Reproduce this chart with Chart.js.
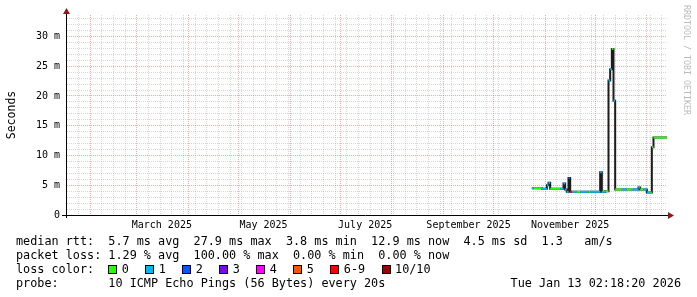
<!DOCTYPE html>
<html>
<head>
  <meta charset="utf-8">
  <title>Smokeping - last 360 days</title>
  <style>
    body { margin: 0; background: #fff; }
    #wrap { position: relative; width: 697px; height: 297px; font-family: "DejaVu Sans Mono", monospace; color: #000; overflow: hidden; }
    #chart { position: absolute; left: 0; top: 0; }
    .line { position: absolute; left: 16px; font-size: 11.8px; line-height: 14px; white-space: pre; }
    .sw { display: inline-block; width: 7px; height: 7px; border: 1px solid #000; margin-right: 4.5px; vertical-align: -1px; }
    .lt { margin-right: 16.4px; }
    #stamp { position: absolute; right: 16px; top: 276px; font-size: 11.8px; line-height: 14px; white-space: pre; }
    #mark { position: absolute; left: 682px; top: 5px; writing-mode: vertical-rl; font-size: 8.3px; color: #bbb; white-space: pre; font-family: "DejaVu Sans Mono", monospace; }
  </style>
</head>
<body>
<div id="wrap">
  <canvas id="chart" width="697" height="297"></canvas>
  <div id="mark">RRDTOOL / TOBI OETIKER</div>
  <div class="line" style="top:234px">median rtt:  5.7 ms avg  27.9 ms max  3.8 ms min  12.9 ms now  4.5 ms sd  1.3   am/s</div>
  <div class="line" style="top:248px">packet loss: 1.29 % avg  100.00 % max  0.00 % min  0.00 % now</div>
  <div class="line" id="losses" style="top:262px">loss color:  </div>
  <div class="line" style="top:276px">probe:       10 ICMP Echo Pings (56 Bytes) every 20s</div>
  <div id="stamp">Tue Jan 13 02:18:20 2026</div>
</div>

<script src="https://cdn.jsdelivr.net/npm/chart.js@4.4.1/dist/chart.umd.min.js"></script>
<script>
  const graphStart = '2025-01-18T02:18:20';
  const graphEnd = '2026-01-13T02:18:20';

  // median rtt (ms), each value holds from its date until the next one
  const runStart = ['2025-10-24','2025-10-25','2025-10-30','2025-11-02','2025-11-03','2025-11-04','2025-11-10',
    '2025-11-12','2025-11-13','2025-11-14','2025-11-15','2025-11-16','2025-11-17','2025-11-20','2025-11-22',
    '2025-11-27','2025-11-28','2025-12-04','2025-12-05','2025-12-07','2025-12-09','2025-12-10','2025-12-11',
    '2025-12-12','2025-12-13','2025-12-17','2025-12-20','2025-12-23','2025-12-27','2025-12-28','2025-12-30',
    '2026-01-01','2026-01-03','2026-01-04','2026-01-05'];
  const medianMs = [4.5,4.5,4.4,5.0,5.4,4.4,4.4,5.3,4.3,3.9,6.2,3.9,3.9,3.9,3.9,3.9,3.9,7.2,3.9,4.0,
    22.6,24.5,27.9,19.2,4.3,4.3,4.3,4.3,4.6,4.3,4.3,3.8,3.8,11.4,13.0];
  const lossIdx = [1,0,1,1,1,0,1,1,1,1,2,6,1,0,1,0,1,1,1,0,1,1,0,1,0,1,0,1,1,0,1,1,0,0,0];

  const lossLabels = ['0','1','2','3','4','5','6-9','10/10'];
  const lossColors = ['#26ff00','#00b8ff','#0059ff','#7e00ff','#ff00ff','#ff5500','#ff0000','#a10000'];

  const monthLabels = ['March 2025','May 2025','July 2025','September 2025','November 2025'];
  const labelDates = ['2025-03-16','2025-05-16','2025-07-16','2025-09-16','2025-11-16'];
  const yLabelStep = 5;

  const DAY = 86400000, T0 = Date.parse('2025-01-01T00:00:00Z');
  const toDay = s => (Date.parse(s.length === 10 ? s + 'T00:00:00Z' : s + 'Z') - T0) / DAY;

  const xMin = toDay(graphStart), xMax = toDay(graphEnd);

  // grid: month starts (major), saturdays (minor), label spots (no line)
  const monthDays = [];
  for (let m = 1; m <= 12; m++) monthDays.push((Date.UTC(2025, m, 1) - T0) / DAY);
  const weekDays = [];
  for (let d = toDay('2025-01-25'); d < xMax; d += 7) if (!monthDays.includes(d)) weekDays.push(d);
  const labelMap = new Map(labelDates.map((s, i) => [toDay(s), monthLabels[i]]));
  const xTicks = [...weekDays, ...monthDays, ...labelMap.keys()].sort((a, b) => a - b);
  const yTicks = [];
  for (let v = 0; v <= 33; v++) yTicks.push(v);

  const minorGrid = 'rgba(150,150,150,0.38)';
  const majorGrid = 'rgba(230,90,90,0.5)';

  // legend swatches
  const losses = document.getElementById('losses');
  lossLabels.forEach((l, i) => {
    const sw = document.createElement('span');
    sw.className = 'sw';
    sw.style.background = lossColors[i];
    const t = document.createElement('span');
    t.className = 'lt';
    t.textContent = l;
    losses.appendChild(sw);
    losses.appendChild(t);
  });

  const startDays = runStart.map(toDay);
  const endDays = startDays.slice(1).concat(xMax);
  const stepData = startDays.map((d, i) => ({x: d, y: medianMs[i]}))
    .concat({x: xMax, y: medianMs[medianMs.length - 1]});
  const segData = [];
  startDays.forEach((d, i) => {
    segData.push({x: d, y: medianMs[i]}, {x: endDays[i], y: medianMs[i]}, {x: endDays[i], y: null});
  });

  const axisArrows = {
    id: 'axisArrows',
    afterDatasetsDraw(chart) {
      const {ctx, chartArea: a} = chart;
      ctx.save();
      ctx.strokeStyle = '#000';
      ctx.lineWidth = 1;
      ctx.beginPath();
      ctx.moveTo(a.left - 5, a.bottom + 0.5); ctx.lineTo(a.right + 2, a.bottom + 0.5);
      ctx.moveTo(a.left - 0.5, a.bottom + 3); ctx.lineTo(a.left - 0.5, a.top - 2);
      ctx.stroke();
      ctx.fillStyle = '#8b1a1a';
      ctx.beginPath();
      ctx.moveTo(a.right + 7, a.bottom + 0.5); ctx.lineTo(a.right + 1, a.bottom - 3); ctx.lineTo(a.right + 1, a.bottom + 4);
      ctx.fill();
      ctx.beginPath();
      ctx.moveTo(a.left - 0.5, a.top - 7); ctx.lineTo(a.left - 4, a.top - 1); ctx.lineTo(a.left + 3, a.top - 1);
      ctx.fill();
      ctx.restore();
    }
  };

  Chart.defaults.font.family = '"DejaVu Sans Mono", monospace';
  Chart.defaults.color = '#000';

  new Chart(document.getElementById('chart'), {
    type: 'line',
    data: {
      datasets: [
        {
          data: segData, borderWidth: 2, pointRadius: 0, spanGaps: false, borderCapStyle: 'butt',
          borderColor: lossColors[0], order: 0,
          segment: { borderColor: c => lossColors[lossIdx[Math.floor(c.p0DataIndex / 3)]] }
        },
        { data: stepData, stepped: true, borderColor: '#1c1c1c', borderWidth: 2, pointRadius: 0, order: 1 }
      ]
    },
    options: {
      responsive: false,
      animation: false,
      devicePixelRatio: 1,
      layout: { padding: { left: 0, top: 15, right: 30, bottom: 0 } },
      plugins: { legend: { display: false }, tooltip: { enabled: false } },
      scales: {
        x: {
          type: 'linear', min: xMin, max: xMax,
          afterBuildTicks: s => { s.ticks = xTicks.map(v => ({value: v})); },
          afterFit: s => { s.height = 82; },
          grid: {
            drawTicks: false,
            color: c => {
              const v = c.tick ? c.tick.value : null;
              if (labelMap.has(v)) return 'rgba(0,0,0,0)';
              return monthDays.includes(v) ? majorGrid : minorGrid;
            }
          },
          border: { display: false, dash: [1, 1] },
          ticks: {
            autoSkip: false, maxRotation: 0, minRotation: 0, padding: 4,
            font: { size: 10 },
            callback: v => labelMap.get(v) || ''
          }
        },
        y: {
          min: 0, max: 33.6,
          afterBuildTicks: s => { s.ticks = yTicks.map(v => ({value: v})); },
          afterFit: s => { s.width = 67; },
          grid: {
            drawTicks: false,
            color: c => {
              const v = c.tick ? c.tick.value : null;
              if (v === 0) return 'rgba(0,0,0,0)';
              return v % yLabelStep === 0 ? majorGrid : minorGrid;
            }
          },
          border: { display: false, dash: [1, 1] },
          ticks: {
            autoSkip: false, padding: 7, font: { size: 10 },
            callback: v => v % yLabelStep ? '' : (v ? v + ' m' : '0')
          },
          title: { display: true, text: 'Seconds', font: { size: 11.5 }, padding: { top: 5, bottom: 0 } }
        }
      }
    },
    plugins: [axisArrows]
  });
</script>
</body>
</html>
